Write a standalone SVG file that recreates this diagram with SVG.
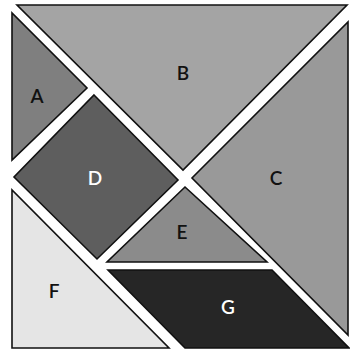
<svg xmlns="http://www.w3.org/2000/svg" width="350" height="351" viewBox="0 0 350 351">
<style>
.p{stroke:#111;stroke-width:1.6;stroke-linejoin:miter}
.t{font-family:"Lato","Open Sans",sans-serif;font-size:19px;font-weight:600;text-anchor:middle;dominant-baseline:central}
.k{fill:#111}
.w{fill:#fff}
</style>
<rect width="350" height="351" fill="#fff"/>
<g id="B"><polygon class="p" fill="#a4a4a4" points="17,5 347,5 183,170"/><text class="t k" x="183" y="72">B</text></g>
<g id="C"><polygon class="p" fill="#999999" points="348,22 348,335 192,178"/><text class="t k" x="276" y="177">C</text></g>
<g id="A"><polygon class="p" fill="#7f7f7f" points="12,13 12,160 87,88"/><text class="t k" x="37" y="95">A</text></g>
<g id="D"><polygon class="p" fill="#5e5e5e" points="94,95 178,180 97,259 14,177"/><text class="t w" x="95" y="177">D</text></g>
<g id="E"><polygon class="p" fill="#8b8b8b" points="185,187 267,262 107,262"/><text class="t k" x="182" y="231">E</text></g>
<g id="F"><polygon class="p" fill="#e5e5e5" points="12,190 12,348 169,348"/><text class="t k" x="54" y="290">F</text></g>
<g id="G"><polygon class="p" fill="#262626" points="108,270 272,270 349,348 185,348"/><text class="t w" x="228" y="306">G</text></g>
<g id="connectors"/>
</svg>
